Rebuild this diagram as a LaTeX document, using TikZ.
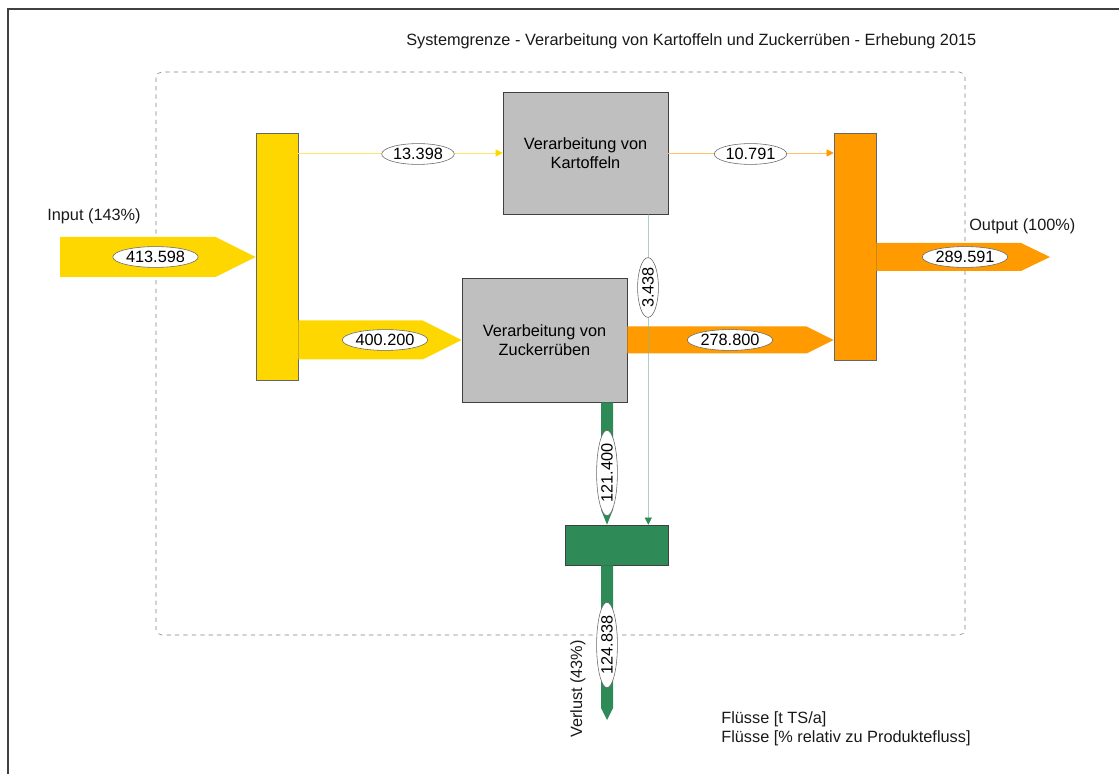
\documentclass[tikz,border=0pt]{standalone}
\usepackage{fontspec}
\setmainfont{Liberation Sans}
\usetikzlibrary{calc,shapes.geometric,arrows.meta}
\definecolor{flgelb}{HTML}{FFD700}
\definecolor{florange}{HTML}{FF9A00}
\definecolor{flgruen}{HTML}{2E8B57}
\definecolor{prgrau}{HTML}{BFBFBF}
% breite Fluesse: farbe, von, nach, halbe breite, spitze
\newcommand{\hflow}[5]{\fill[#1] ($(#2)+(0,#4)$) -- ($(#3)+(-#5,#4)$) -- (#3) -- ($(#3)+(-#5,-#4)$) -- ($(#2)+(0,-#4)$) -- cycle;}
\newcommand{\vflow}[5]{\fill[#1] ($(#2)+(#4,0)$) -- ($(#3)+(#4,-#5)$) -- (#3) -- ($(#3)+(-#4,-#5)$) -- ($(#2)+(-#4,0)$) -- cycle;}
\begin{document}
\begin{tikzpicture}[x=0.025cm, y=-0.025cm, font=\fontsize{11.6}{13.5}\selectfont,
	prozess/.style={draw=black!75, fill=prgrau, align=center, inner sep=0pt},
	lager/.style={draw=black!60, inner sep=0pt, minimum width=1.05cm},
	lbl/.style={ellipse, draw=black!60, fill=white, inner xsep=0.5pt, inner ysep=0pt, minimum height=0.52cm},
	txt/.style={inner sep=0pt, text=black!90},
	duenn/.style={draw=#1!60, -{Triangle[length=5pt, width=5pt, color=#1]}}]
	\useasboundingbox (0,0) rectangle (1119,774);
	\draw[black!75, line width=1pt] (8,774)--(8,9)--(1119,9);
	\node[txt, anchor=west] (titel) at (406,41) {Systemgrenze - Verarbeitung von Kartoffeln und Zuckerrüben - Erhebung 2015};
	\draw[black!50, dashed, rounded corners=4pt] (156,72) rectangle (965,635);
	% Prozesse und Lager
	\node[prozess, minimum width=4.125cm, minimum height=3.05cm] (kart) at (585.5,153) {Verarbeitung von\\Kartoffeln};
	\node[prozess, minimum width=4.125cm, minimum height=3.1cm] (zuck) at (544.5,340) {Verarbeitung von\\Zuckerrüben};
	\node[lager, fill=flgelb, minimum height=6.175cm] (split) at (277,256.5) {};
	\node[lager, fill=florange, minimum height=5.675cm] (merge) at (855,246.5) {};
	\node[draw=black!75, fill=flgruen, minimum width=2.575cm, minimum height=1cm, inner sep=0pt] (verlust) at (616.5,545) {};
	\path (60,257) coordinate (in0) (1050,257) coordinate (out1) (607,720) coordinate (vl1)
	(split.west |- in0) coordinate (in1) (split.east |- zuck.west) coordinate (zu0) (zuck.west) coordinate (zu1)
	(zuck.east) coordinate (zo0) (merge.west |- zuck.east) coordinate (zo1) (merge.east |- in0) coordinate (out0)
	(zuck.south -| vl1) coordinate (zv0) (verlust.north -| vl1) coordinate (zv1) (verlust.south -| vl1) coordinate (vl0);
	% Fluesse
	\hflow{flgelb}{in0}{in1}{20}{40}
	\hflow{flgelb}{zu0}{zu1}{19.5}{39}
	\hflow{florange}{zo0}{zo1}{13.5}{27}
	\hflow{florange}{out0}{out1}{14}{29}
	\vflow{flgruen}{zv0}{zv1}{6}{15}
	\vflow{flgruen}{vl0}{vl1}{6}{12}
	\draw[duenn=flgelb] (split.east |- kart.west)--(kart.west);
	\draw[duenn=florange] (kart.east)--(merge.west |- kart.east);
	\draw[duenn=flgruen] ($(kart.south east)+(-20,0)$)--($(verlust.north east)+(-20,0)$);
	\foreach \n/\x/\y/\t in {l1/155.5/257/413.598, l2/418/154/13.398, l3/385/340/400.200, l4/750.5/154/10.791, l5/730/340/278.800, l6/965/257/289.591}{
	\node[lbl] (\n) at (\x,\y) {\t};
	}
	\foreach \n/\x/\y/\t in {l7/648/287.5/3.438, l8/607/473/121.400, l9/607/645/124.838}{
	\node[lbl, rotate=90] (\n) at (\x,\y) {\t};
	}
	\node[txt, anchor=west] (inlbl) at (47,216) {Input (143\%)};
	\node[txt, anchor=west] (outlbl) at (969,226) {Output (100\%)};
	\node[txt, rotate=90] (verlustlbl) at (578,689) {Verlust (43\%)};
	\node[txt, anchor=west, align=left] (legende) at (721,729) {Flüsse [t TS/a]\\Flüsse [\% relativ zu Produktefluss]};
\end{tikzpicture}
\end{document}
